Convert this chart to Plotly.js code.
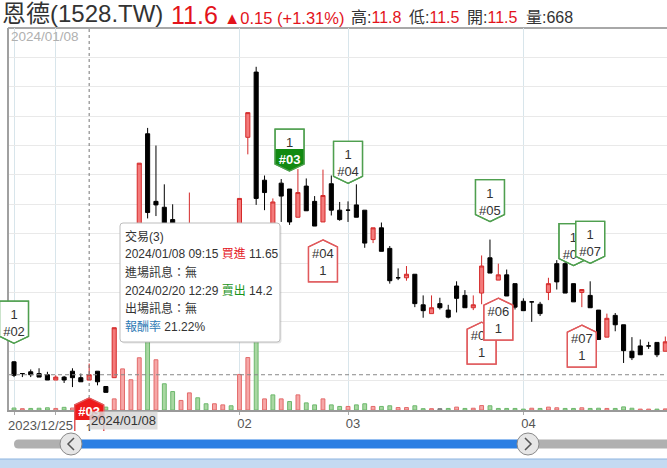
<!DOCTYPE html>
<html><head><meta charset="utf-8">
<script src="https://cdn.plot.ly/plotly-3.0.1.min.js"></script>
<style>html,body{margin:0;padding:0;background:#fff;}#chart{width:667px;height:468px;}</style>
</head><body><div id="chart"></div>
<script>
// ---------- data ----------
const dates = ['2023-12-25','2023-12-26','2023-12-27','2023-12-28','2023-12-29',
'2024-01-02','2024-01-03','2024-01-04','2024-01-05','2024-01-08','2024-01-09','2024-01-10','2024-01-11','2024-01-12',
'2024-01-15','2024-01-16','2024-01-17','2024-01-18','2024-01-19','2024-01-22','2024-01-23','2024-01-24','2024-01-25','2024-01-26',
'2024-01-29','2024-01-30','2024-01-31','2024-02-01','2024-02-02','2024-02-05','2024-02-15','2024-02-16',
'2024-02-19','2024-02-20','2024-02-21','2024-02-22','2024-02-23','2024-02-26','2024-02-27','2024-02-29',
'2024-03-01','2024-03-04','2024-03-05','2024-03-06','2024-03-07','2024-03-08','2024-03-11','2024-03-12','2024-03-13','2024-03-14','2024-03-15',
'2024-03-18','2024-03-19','2024-03-20','2024-03-21','2024-03-22','2024-03-25','2024-03-26','2024-03-27','2024-03-28','2024-03-29',
'2024-04-01','2024-04-02','2024-04-03','2024-04-08','2024-04-09','2024-04-10','2024-04-11','2024-04-12',
'2024-04-15','2024-04-16','2024-04-17','2024-04-18','2024-04-19','2024-04-22','2024-04-23','2024-04-24','2024-04-25','2024-04-26'];
const openP = [11.82,11.62,11.65,11.62,11.60,11.51,11.56,11.66,11.55,11.51,11.66,11.40,11.55,12.70,
13.70,14.00,15.70,14.55,14.45,14.24,13.75,13.90,14.05,13.85,13.70,13.85,13.95,13.95,15.64,16.75,14.91,14.10,
14.86,14.76,14.28,14.81,14.55,14.20,14.85,14.40,14.40,14.49,14.40,13.90,14.10,13.75,13.25,13.25,13.31,12.79,12.64,
12.81,12.70,13.11,12.95,12.74,12.99,13.59,13.21,13.30,13.15,12.85,12.84,12.80,13.00,13.49,13.49,13.15,13.00,
12.95,12.70,12.24,12.61,12.45,12.00,12.09,12.09,12.15,12.00];
const highP = [11.83,11.62,11.69,11.71,11.65,11.59,11.58,11.71,11.62,11.79,11.66,11.40,12.40,13.64,
14.15,15.20,15.80,15.50,14.84,14.50,14.15,14.70,14.15,13.95,13.95,14.05,14.05,14.60,16.06,16.84,14.99,14.60,
14.93,14.76,15.10,14.94,14.64,15.09,14.99,14.54,14.55,14.84,14.40,14.10,14.19,13.79,13.41,13.45,13.31,12.95,12.95,
12.91,12.79,13.19,13.04,12.95,13.63,13.90,13.49,13.39,13.15,12.90,12.84,12.84,13.25,13.55,13.52,13.15,13.05,
13.19,12.70,12.64,12.65,12.45,12.24,12.20,12.16,12.15,12.25];
const lowP = [11.56,11.56,11.56,11.56,11.51,11.51,11.46,11.39,11.48,11.51,11.42,11.30,11.55,12.60,
13.40,13.95,14.26,14.30,13.90,13.85,13.65,13.85,13.75,13.60,13.65,13.80,13.80,13.90,15.35,14.49,14.40,14.00,
14.20,14.15,14.28,14.39,14.13,14.20,14.31,14.22,14.20,14.28,13.76,13.84,13.70,13.15,13.21,13.20,12.75,12.57,12.64,
12.71,12.56,12.66,12.74,12.70,12.80,13.33,13.21,12.94,12.71,12.69,12.50,12.60,12.87,13.05,12.99,12.84,12.75,
12.74,12.20,12.24,12.34,11.80,11.85,11.94,12.04,11.90,12.00];
const closeP = [11.59,11.62,11.60,11.56,11.51,11.56,11.51,11.55,11.48,11.60,11.48,11.30,12.40,13.64,
14.00,15.20,14.36,14.49,14.00,13.90,14.05,14.10,13.80,13.70,13.85,13.95,13.90,14.60,16.06,14.60,14.70,14.54,
14.64,14.20,14.70,14.39,14.13,14.65,14.40,14.24,14.40,14.28,13.84,14.10,13.70,13.20,13.25,13.31,12.81,12.69,12.74,
12.74,12.58,12.90,12.74,12.79,13.45,13.33,13.30,12.94,12.75,12.69,12.84,12.64,13.15,13.18,12.99,12.84,13.05,
12.74,12.20,12.56,12.45,12.01,11.89,11.94,12.09,11.94,12.16];
const volume = [900,600,700,800,1000,700,1200,900,800,1500,1100,1300,5000,18500,
13600,23500,33000,22600,11800,8300,4300,7700,5500,2800,2800,2300,1900,16000,23600,45000,5000,6800,
5000,3800,6800,3200,2300,5000,2300,1600,1600,2300,2800,1600,1600,1900,1100,1100,1900,600,600,
600,700,1300,700,800,2000,1900,700,700,700,400,800,700,1300,1000,700,700,1000,
700,800,700,700,1400,800,400,400,400,500];
const tickDates = ['2023-12-25','2024-01-02','2024-02-01','2024-03-01','2024-04-01'];
const tickText = ['2023/12/25','','02','03','04'];
const buyDates  = ['2024-01-08','2024-02-26','2024-03-25','2024-03-27','2024-04-12'];
const buyNos    = ['#03','#04','#05','#06','#07'];
const sellDates = ['2023-12-25','2024-02-20','2024-03-01','2024-03-26','2024-04-11','2024-04-15'];
const sellNos   = ['#02','#03','#04','#05','#06','#07'];
const lots = 1;
const activeTrade = '#03';
const hoverDate = '2024-01-08';
const tip = {title:'交易(3)', inTime:'2024/01/08 09:15', inSide:'買進', inPrice:'11.65', inMsg:'進場訊息：無',
             outTime:'2024/02/20 12:29', outSide:'賣出', outPrice:'14.2', outMsg:'出場訊息：無', retLabel:'報酬率', ret:'21.22%'};
const quote = {name:'恩德', code:'1528.TW', last:'11.6', chg:'0.15', pct:'+1.31%', high:'11.8', low:'11.5', open:'11.5', vol:'668'};

// ---------- geometry helpers ----------
const XR=[-0.6,78.2], YR=[11,17.5], VR=[0,171900];
const ML=9, MT=28, PW=658, PH=382;
const pX = x => (x-ML)/PW, pY = y => (MT+PH-y)/PH;
const idx = d => dates.indexOf(d);
const xP = i => (i-XR[0])/(XR[1]-XR[0]);
const yP = p => (p-YR[0])/(YR[1]-YR[0]);
const RED='#e3131b', FONT='Liberation Sans, Noto Sans CJK TC, sans-serif';

const xi = dates.map((d,i)=>i);
const upI = xi.filter(i=>closeP[i]>openP[i]), dnI = xi.filter(i=>!(closeP[i]>openP[i]));
const pick=(arr,ids)=>ids.map(i=>arr[i]);
const volCol = xi.map(i=> i===0 ? (closeP[0]>=openP[0]?'r':'g') : (closeP[i]>closeP[i-1]?'r':(closeP[i]<closeP[i-1]?'g':'n')));
const VF={r:'#f6a7a7',g:'#a9d7a2',n:'#9a9a9a'}, VL={r:'#e36a6a',g:'#6cb86c',n:'#777'};

const traces = [
 {type:'bar', x:xi, y:volume, yaxis:'y', width:0.46,
  marker:{color:volCol.map(c=>VF[c]), line:{color:volCol.map(c=>VL[c]), width:1}}},
 {type:'candlestick', x:upI, open:pick(openP,upI), high:pick(highP,upI), low:pick(lowP,upI), close:pick(closeP,upI), yaxis:'y2',
  whiskerwidth:0, increasing:{line:{color:'#d42a2a',width:1},fillcolor:'#f47a7a'}, decreasing:{line:{color:'#d42a2a',width:1},fillcolor:'#f47a7a'}},
 {type:'candlestick', x:dnI, open:pick(openP,dnI), high:pick(highP,dnI), low:pick(lowP,dnI), close:pick(closeP,dnI), yaxis:'y2',
  whiskerwidth:0, increasing:{line:{color:'#000',width:1},fillcolor:'#000'}, decreasing:{line:{color:'#000',width:1},fillcolor:'#000'}}
];

// ---------- flags ----------
const shapes = [];
function flag(i, isSell, no){
  const s = isSell?1:-1, off=18, sh=7, h=42, hw=14.5;
  const price = isSell? highP[i] : lowP[i];
  const full = `M0,${s*off} L${hw},${s*(off+sh)} L${hw},${s*(off+h)} L${-hw},${s*(off+h)} L${-hw},${s*(off+sh)} Z`;
  const part = `M0,${s*off} L${hw},${s*(off+sh)} L${hw},${s*(off+22)} L${-hw},${s*(off+22)} L${-hw},${s*(off+sh)} Z`;
  const lc = isSell?'#4f9f4f':'#e05a5c', hc = isSell?'#118a11':'#ee1a1a';
  const base = {type:'path', xref:'paper', yref:'paper', xsizemode:'pixel', ysizemode:'pixel', xanchor:xP(i), yanchor:yP(price), layer:'above'};
  const hi = no===activeTrade;
  shapes.push(Object.assign({}, base, {path:full, fillcolor:'#fff', line:{color:lc,width:1.3}}));
  if(hi) shapes.push(Object.assign({}, base, {path:part, fillcolor:hc, line:{width:0}}));
  const noTxt = hi ? `<span style="color:#fff"><b>${no}</b></span>` : no;
  const txt = isSell ? `${lots}<br>${noTxt}` : `${noTxt}<br>${lots}`;
  shapes.push(Object.assign({}, base, {path:full, fillcolor:'rgba(0,0,0,0)', line:{color:lc,width:1.3},
     label:{text:txt, font:{family:FONT, size:13, color:'#333'}, textposition:'middle center'}}));
}
sellDates.forEach((d,k)=>{ if(k<1) flag(idx(d), true, sellNos[k]); });
buyDates.forEach((d,k)=>{ if(k<1) flag(idx(d), false, buyNos[k]); });
sellDates.forEach((d,k)=>{ if(k>=1) flag(idx(d), true, sellNos[k]); });
buyDates.forEach((d,k)=>{ if(k>=1) flag(idx(d), false, buyNos[k]); });

// crosshair
const hi9 = idx(hoverDate);
shapes.unshift({type:'line', xref:'x', yref:'paper', x0:hi9, x1:hi9, y0:0, y1:1, line:{color:'#777', width:1, dash:'3px,3px'}, layer:'above'});
shapes.unshift({type:'line', xref:'paper', yref:'y2', x0:0, x1:1, y0:closeP[hi9], y1:closeP[hi9], line:{color:'#888', width:1, dash:'4px,3px'}, layer:'above'});
// frame top
shapes.push({type:'line', xref:'paper', yref:'paper', x0:pX(8), x1:pX(680), y0:pY(28), y1:pY(28), line:{color:'#a8a8a8', width:2}, layer:'below'});

// tooltip box (with soft shadow)
const tipBox = 'M3,0 L157,0 Q160,0 160,-3 L160,-116 Q160,-119 157,-119 L3,-119 Q0,-119 0,-116 L0,-3 Q0,0 3,0 Z';
shapes.push({type:'path', xref:'paper', yref:'paper', xsizemode:'pixel', ysizemode:'pixel', xanchor:pX(121.5), yanchor:pY(224.5),
  path:tipBox, fillcolor:'rgba(0,0,0,0.10)', line:{width:0}, layer:'above'});
shapes.push({type:'path', xref:'paper', yref:'paper', xsizemode:'pixel', ysizemode:'pixel', xanchor:pX(120), yanchor:pY(223),
  path:tipBox, fillcolor:'#fff', line:{color:'#bdbdbd', width:1}, layer:'above'});

// range slider
const rect=(x0,x1,y0,y1,fill)=>({type:'rect', xref:'paper', yref:'paper', x0:pX(x0), x1:pX(x1), y0:pY(y1), y1:pY(y0), fillcolor:fill, line:{width:0}, layer:'above'});
shapes.push(rect(-20,700,431,458,'#fff'));
shapes.push({type:'path', xref:'paper', yref:'paper', xsizemode:'pixel', ysizemode:'pixel', xanchor:pX(14), yanchor:pY(444),
  path:'M4.5,4.5 L58,4.5 L58,-4.5 L4.5,-4.5 Q0,-4.5 0,0 Q0,4.5 4.5,4.5 Z', fillcolor:'#b0b0b0', line:{width:0}, layer:'above'});
shapes.push(rect(71,528,439.5,448.5,'#2b7fe3'));
shapes.push(rect(528,700,439.5,448.5,'#b0b0b0'));
shapes.push(rect(-20,700,459,470,'#c4daf1'));
shapes.push({type:'line', xref:'paper', yref:'paper', x0:pX(-20), x1:pX(700), y0:pY(459), y1:pY(459), line:{color:'#8db4e0', width:1}, layer:'above'});
[[71,444,'M3,-6 L-3,0 L3,6'],[528,444,'M-3,-6 L3,0 L-3,6']].forEach(([cx,cy,ch])=>{
  shapes.push({type:'circle', xref:'paper', yref:'paper', x0:pX(cx-11), x1:pX(cx+11), y0:pY(cy+11), y1:pY(cy-11), fillcolor:'#e6e6e6', line:{color:'#8a8a8a', width:1}, layer:'above'});
  shapes.push({type:'path', xref:'paper', yref:'paper', xsizemode:'pixel', ysizemode:'pixel', xanchor:pX(cx), yanchor:pY(cy), path:ch, line:{color:'#555', width:1.5}, layer:'above'});
});

// ---------- annotations ----------
const ann = [];
const sp = (c,t)=>`<span style="color:${c}">${t}</span>`;
// title pieces: [left px, centre px, size, text]
const titleParts = [
  [0,   14.0, 24, sp('#333',`${quote.name}(${quote.code})`)],
  [169, 15.2, 25, sp(RED,quote.last)],
  [222, 17.8, 16.5, sp(RED,`▲${quote.chg} (${quote.pct})`)],
  [349, 17.2, 16, `高:${sp(RED,quote.high)}`],
  [407, 17.2, 16, `低:${sp(RED,quote.low)}`],
  [465, 17.2, 16, `開:${sp(RED,quote.open)}`],
  [524, 17.2, 16, `量:${quote.vol}`]];
titleParts.forEach(([x,y,s,t])=>ann.push({xref:'paper', yref:'paper', x:pX(x), y:pY(y), xanchor:'left', yanchor:'middle',
  showarrow:false, text:t, font:{family:FONT, size:s, color:'#333'}}));
const fmt = d => d.replace(/-/g,'/');
ann.push({xref:'paper', yref:'paper', x:pX(9), y:pY(36), xanchor:'left', yanchor:'middle', showarrow:false,
  text:fmt(hoverDate), font:{family:FONT, size:13.5, color:'#b0b0b0'}});
ann.push({xref:'x', yref:'paper', x:0, xshift:-8, y:pY(425), xanchor:'left', yanchor:'middle', showarrow:false,
  text:tickText[0], font:{family:FONT, size:13, color:'#555'}});
ann.push({xref:'x', yref:'paper', x:hi9, y:pY(420), xanchor:'left', yanchor:'middle', showarrow:false,
  text:fmt(hoverDate), font:{family:FONT, size:13, color:'#333'}, bgcolor:'rgba(215,215,215,0.85)', borderpad:1});
const tipLines = [tip.title,
  `${tip.inTime} ${sp(RED,tip.inSide)} ${tip.inPrice}`,
  tip.inMsg,
  `${tip.outTime} ${sp('#1a931a',tip.outSide)} ${tip.outPrice}`,
  tip.outMsg,
  `${sp('#2f7bb5',tip.retLabel)} ${tip.ret}`];
tipLines.forEach((t,k)=>ann.push({xref:'paper', yref:'paper', x:pX(123), y:pY(236.5+18*k), xanchor:'left', yanchor:'middle',
  showarrow:false, text:t, font:{family:FONT, size:12, color:'#333'}}));

const layout = {
  width:667, height:468, margin:{l:ML, r:0, t:MT, b:468-MT-PH},
  paper_bgcolor:'#fff', plot_bgcolor:'#fff', showlegend:false, hovermode:false, dragmode:false,
  xaxis:{type:'linear', range:XR, tickvals:tickDates.map(idx), ticktext:tickText.map((t,k)=>k===0?'':t),
    showgrid:true, gridcolor:'#d8e5eb', gridwidth:1, zeroline:false, showline:true, linecolor:'#999', linewidth:2,
    ticks:'outside', ticklen:3, tickcolor:'#aaa', ticklabelshift:5, ticklabelstandoff:-3,
    tickfont:{family:FONT, size:13, color:'#555'}, rangeslider:{visible:false}, fixedrange:true},
  yaxis:{range:VR, showgrid:false, zeroline:false, showticklabels:false, showline:true, linecolor:'#a0a0a0', linewidth:2, fixedrange:true},
  yaxis2:{range:YR, overlaying:'y', side:'left', dtick:0.5, tick0:11, showgrid:true, gridcolor:'#e9e9e9', zeroline:false,
    showticklabels:false, showline:false, fixedrange:true},
  shapes:shapes, annotations:ann
};
Plotly.newPlot('chart', traces, layout, {staticPlot:true, displayModeBar:false});
</script></body></html>
